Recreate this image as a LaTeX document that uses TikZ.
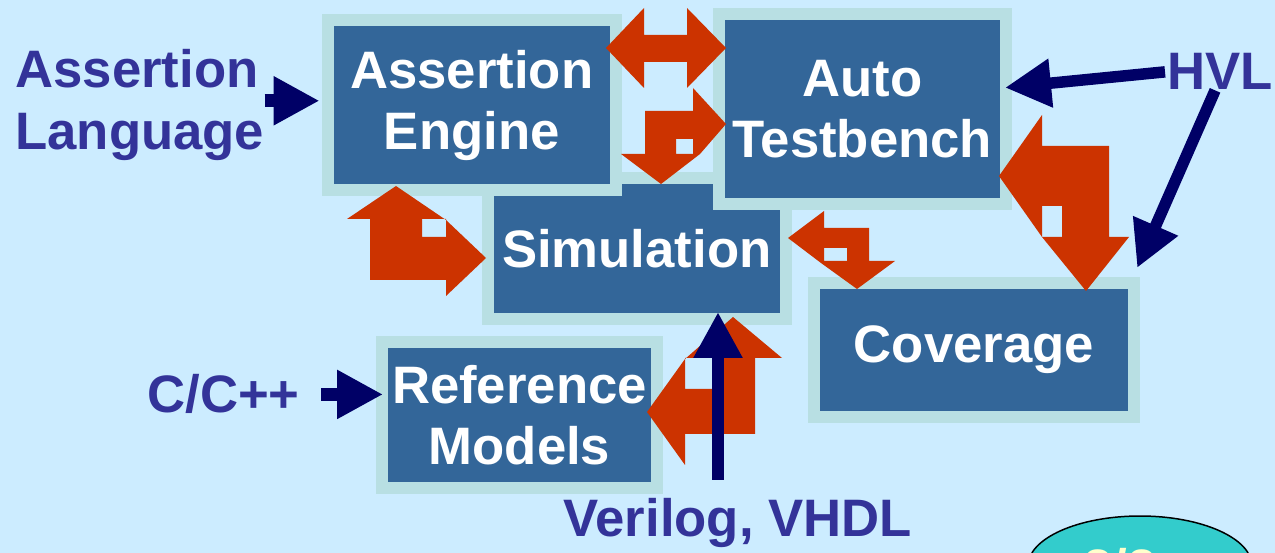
\documentclass[tikz,border=0pt]{standalone}
\usepackage{fontspec}
\setmainfont{Liberation Sans}
\usetikzlibrary{arrows.meta, calc, shapes.geometric}
\definecolor{sky}{HTML}{CCECFF}
\definecolor{rim}{HTML}{B8DFE3}
\definecolor{boxblue}{HTML}{336699}
\definecolor{rust}{HTML}{CC3300}
\definecolor{ink}{HTML}{000066}
\definecolor{labelblue}{HTML}{333399}
\definecolor{badgeteal}{HTML}{33CCCC}
\definecolor{cream}{HTML}{FFFFCC}
\newcommand{\bigfont}{\bfseries\fontsize{30}{35}\selectfont}
\tikzset{
  block/.style={draw=rim, line width=0.24cm, fill=boxblue, text=white, font=\bigfont,
      align=center, inner sep=0pt},
  tag/.style={text=labelblue, font=\bigfont, inner sep=0pt},
  feed/.style={draw=ink, line width=0.23cm, shorten >=-0.14cm,
      -{Triangle[length=0.92cm, width=0.92cm]}},
  bent/.style={fill=rust, even odd rule},
  badge/.style={ellipse, draw=black, line width=0.85pt, fill=badgeteal,
      minimum width=4.48cm, minimum height=2cm},
}

\begin{document}
\begin{tikzpicture}[x=0.02cm, y=-0.02cm]
  \useasboundingbox[fill=sky] (0,0) rectangle (1275,553);
  \node[block, minimum width=5.97cm, minimum height=2.82cm] (sim) at (636.75,248.5) {Simulation};
  \node[block, minimum width=5.77cm, minimum height=3.41cm] (eng) at (471.75,105.25) {Assertion\\Engine};
  \node[block, minimum width=5.75cm, minimum height=3.81cm] (atb) at (862.25,109.25) {Auto\\Testbench};
  \node[block, minimum width=6.4cm, minimum height=2.69cm] (cov) at (974,349.75) {Coverage};
  \node[block, minimum width=5.5cm, minimum height=2.93cm] (ref) at (519.5,415.25) {Reference\\Models};

  \fill[bent] (606,48) -- (644,8) -- (644,35) -- (687,35) -- (687,8) -- (726,48)
    -- (687,88) -- (687,62) -- (644,62) -- (644,88) -- cycle;
  \fill[bent] (645,111) -- (693,111) -- (693,88) -- (726,124) -- (700,154) -- (661,184)
    -- (621,154) -- (645,154) -- cycle (676,139) rectangle (693,154);
  \fill[bent] (370,280) -- (446,280) -- (446,296) -- (486,258) -- (446,220) -- (396,186)
    -- (347,219) -- (370,219) -- cycle (422,219) rectangle (446,237);
  \fill[bent] (869,228) -- (824,228) -- (824,211) -- (788,238) -- (821,263) -- (857,289)
    -- (895,261) -- (869,261) -- cycle (824,248) rectangle (847,261);
  \fill[bent] (1109,146) -- (1042,146) -- (1042,115) -- (999,176) -- (1042,237) -- (1086,291)
    -- (1129,237) -- (1109,237) -- cycle (1042,206) rectangle (1062,237);
  \fill[bent] (755,434) -- (685,434) -- (685,465) -- (647,412) -- (685,359) -- (733,317)
    -- (782,358) -- (755,358) -- cycle (685,358) rectangle (712,389);

  \node[tag, align=left, anchor=north west] (lang) at (15,49) {Assertion\\Language};
  \node[tag, anchor=base west] (hvl) at (1167,90) {HVL};
  \node[tag, anchor=base west] (cpp) at (147,413) {C/C++};
  \node[tag, anchor=base west] (vhdl) at (563,537) {Verilog, VHDL};
  \coordinate (vin) at (718,480);

  \draw[feed, line width=0.26cm, shorten >=0.04cm] ([yshift=0.08cm]lang.east) -- ([yshift=0.08cm]lang.east -| eng.west);
  \draw[feed] ([xshift=-0.04cm]hvl.west) -- ($(atb.north east)!0.39!(atb.south east)$);
  \draw[feed] ([xshift=-0.1cm]hvl.south) -- ([yshift=0.3cm]cov.north east);
  \draw[feed, line width=0.26cm] ([xshift=0.42cm]cpp.east) -- (cpp.east -| ref.west);
  \draw[feed, shorten >=-0.26cm] (vin) -- (vin |- sim.south);

  \node[badge] (pg) at (1140,566) {};
  \node[text=cream, font=\bigfont, inner sep=0pt, anchor=north west] (pgnum) at (1083,548) {2/2};
\end{tikzpicture}
\end{document}
